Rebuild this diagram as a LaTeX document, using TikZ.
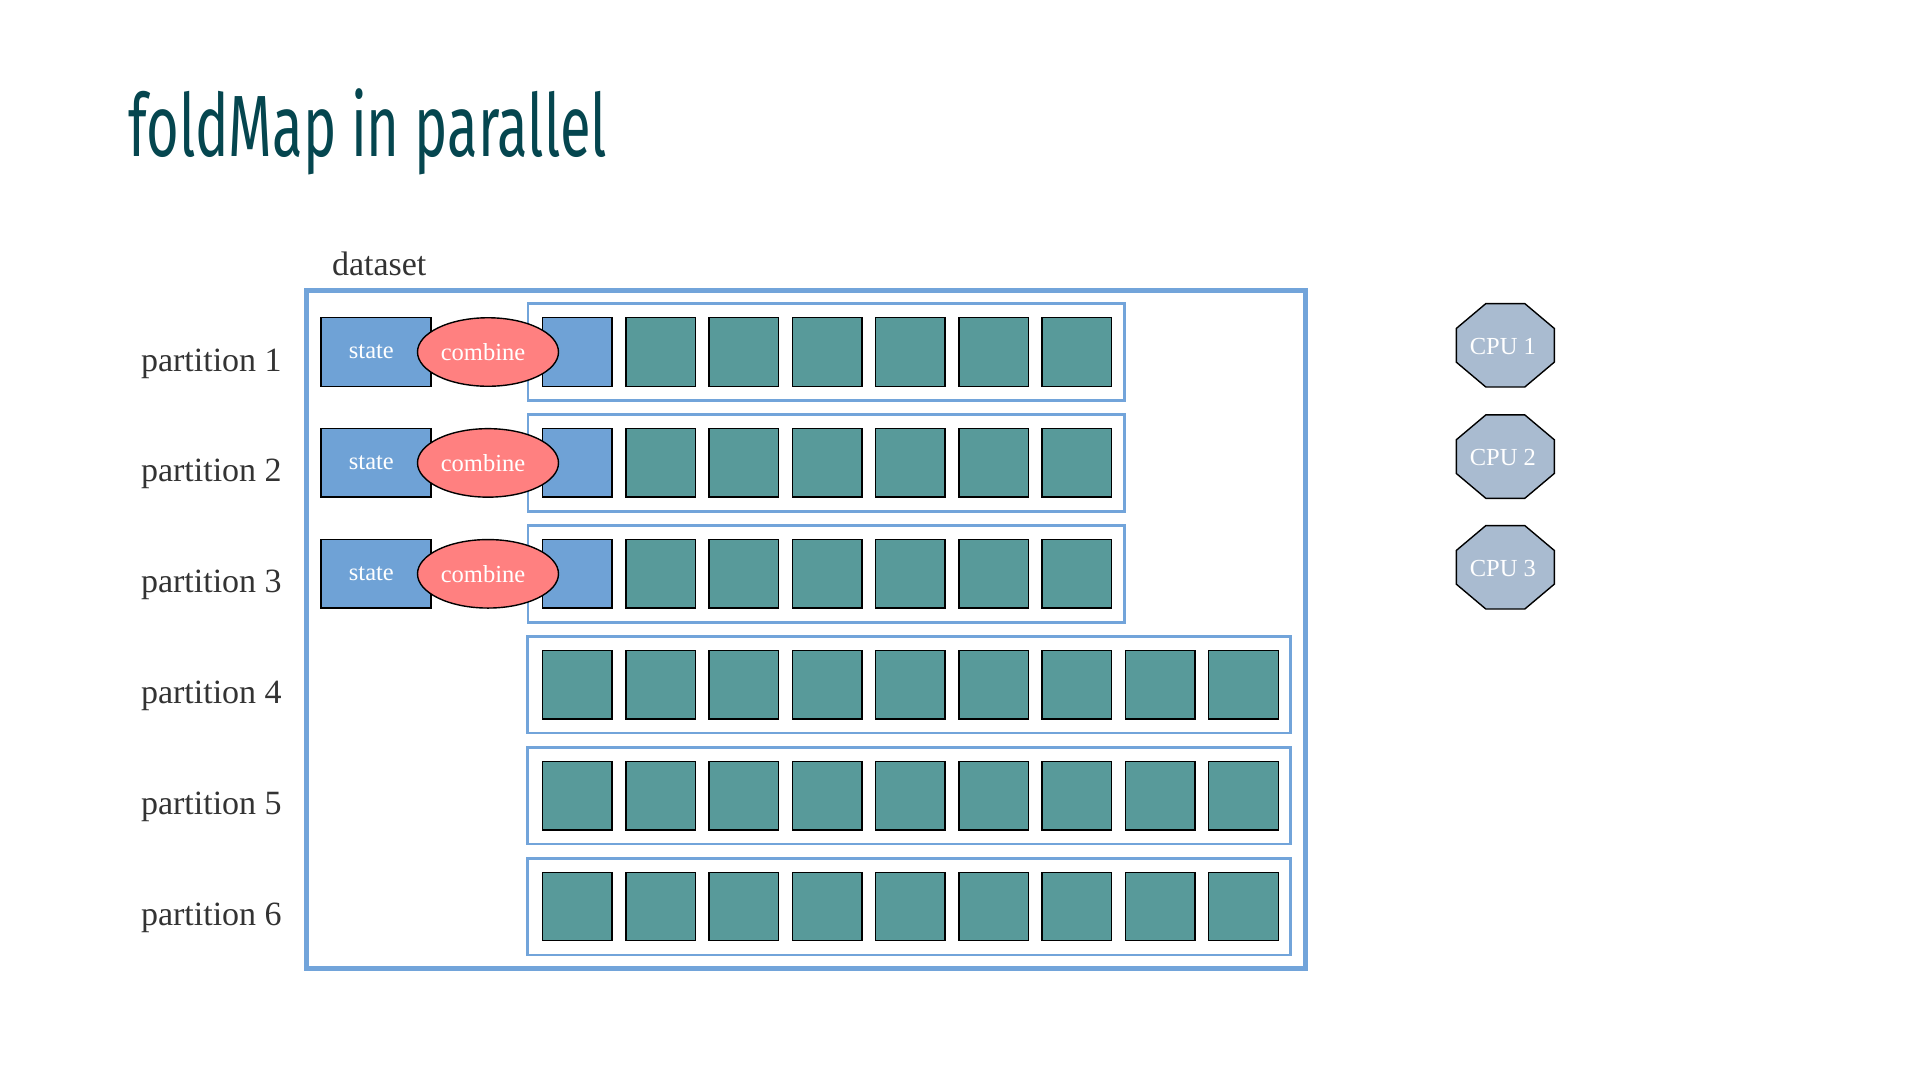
\documentclass[tikz,border=0pt]{standalone}
\usepackage{fontspec}
\setmainfont{Liberation Serif}
\newfontfamily\titlefont[FakeStretch=0.645]{Fira Sans}
\usetikzlibrary{shapes.geometric}
\definecolor{titlecol}{HTML}{05464F}
\definecolor{txtgray}{HTML}{333333}
\definecolor{lineblue}{HTML}{72A4DA}
\definecolor{stateblue}{HTML}{6FA2D6}
\definecolor{cellgreen}{HTML}{589A9A}
\definecolor{combred}{HTML}{FF8080}
\definecolor{cpufill}{HTML}{A9BBD0}
\tikzset{
  lbl/.style={font=\fontsize{34}{40}\selectfont, text=txtgray, inner sep=0pt},
  datasetbox/.style={draw=lineblue, line width=5pt, minimum width=999pt, minimum height=678pt, inner sep=0pt},
  partbox/.style={draw=lineblue, line width=2.7pt, minimum height=96.7pt, inner sep=0pt},
  cellbox/.style={draw=black, line width=1.4pt, fill=cellgreen, minimum width=69.5pt, minimum height=68.5pt, inner sep=0pt},
  bluecell/.style={cellbox, fill=stateblue},
  statebox/.style={draw=black, line width=1.4pt, fill=stateblue, minimum width=110pt, minimum height=68.5pt, inner sep=0pt, text=white, font=\fontsize{24.5}{28}\selectfont},
  combinebox/.style={ellipse, draw=black, line width=1.4pt, fill=combred, minimum width=141pt, minimum height=68.5pt, inner sep=0pt, text=white, font=\fontsize{24.5}{28}\selectfont},
  cpushape/.style={draw=black, line width=1.4pt, fill=cpufill},
  cputext/.style={text=white, font=\fontsize{24.5}{28}\selectfont, inner sep=0pt}
}
\begin{document}
\begin{tikzpicture}[x=1pt, y=-1pt]
\useasboundingbox[fill=white] (0,0) rectangle (1920,1080);
% title
\node[anchor=base west, inner sep=0pt, text=titlecol, font=\titlefont\fontsize{87}{95}\selectfont] (title) at (127.9,156.5) {foldMap in parallel};
% dataset
\node[datasetbox] (dataset) at (805.7,629.4) {};
\node[lbl, anchor=base west] (datasetlbl) at (331.8,275) {dataset};
% rows
\foreach \r in {1,...,6} {
  \pgfmathsetmacro\yc{352+110.9*(\r-1)}
  \node[lbl, anchor=base west] (plbl\r) at (140.8,\yc+19) {partition \r};
  \ifnum\r<4
    \node[partbox, minimum width=596.3pt] (part\r) at (826,\yc) {};
    \node[statebox] (state\r) at (375.9,\yc) {\raisebox{-2pt}{state}\hspace*{9pt}};
    \node[bluecell] (cell\r-1) at (577.3,\yc) {};
    \foreach \c in {2,...,7} {
      \node[cellbox] (cell\r-\c) at ({577.3+83.27*(\c-1)},\yc) {};
    }
    \node[combinebox] (comb\r) at (488,\yc) {\raisebox{-1.5pt}{combine}\hspace*{10pt}};
  \else
    \node[partbox, minimum width=762.8pt] (part\r) at (909.2,\yc) {};
    \foreach \c in {1,...,9} {
      \node[cellbox] (cell\r-\c) at ({577.3+83.27*(\c-1)},\yc) {};
    }
  \fi
}
% CPUs
\foreach \i/\y in {1/345.3, 2/456.6, 3/567.3} {
  \coordinate (cpuc\i) at (1505.3,\y);
  \draw[cpushape] (cpuc\i) +(-49,-16.85) -- +(-19.5,-41.7) -- +(19.5,-41.7) -- +(49,-16.85) -- +(49,16.85) -- +(19.5,41.7) -- +(-19.5,41.7) -- +(-49,16.85) -- cycle;
  \node[cputext] (cpu\i) at ([xshift=-2.5pt, yshift=-1pt]cpuc\i) {CPU \i};
}
\end{tikzpicture}
\end{document}
